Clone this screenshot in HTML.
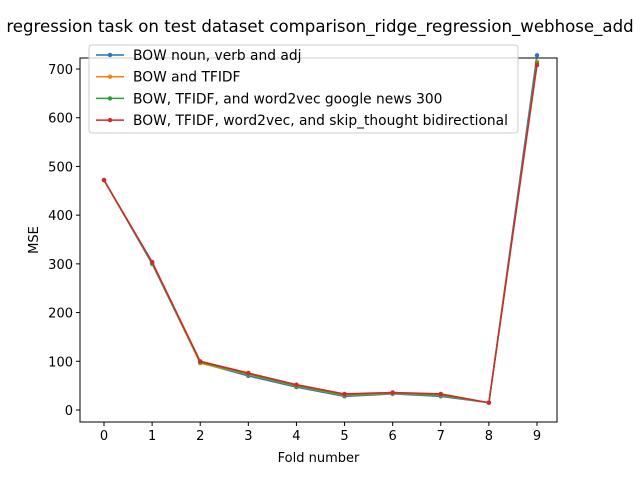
<!DOCTYPE html>
<html><head><meta charset="utf-8"><style>
body{margin:0;background:#fff;}
svg{font-family:"DejaVu Sans","Liberation Sans",sans-serif;}
</style></head><body>
<svg id="chart" width="640" height="480" xmlns="http://www.w3.org/2000/svg">
<rect width="640" height="480" fill="#fff"/>
<text x="320" y="32" font-size="16.6" text-anchor="middle">regression task on test dataset comparison_ridge_regression_webhose_add</text>
<g id="plot"></g>
</svg>
<script>
const folds=[0,1,2,3,4,5,6,7,8,9];
const seriesNames=["BOW noun, verb and adj","BOW and TFIDF","BOW, TFIDF, and word2vec google news 300","BOW, TFIDF, word2vec, and skip_thought bidirectional"];
const blueVals=[472,300,97,70,47,28,33,28,15,728];
const orangeVals=[472,302,96,73,49,30,34,30,15,715];
const greenVals=[472,302,98,74,50,31,35,31,15,712];
const redVals=[472,304,100,76,52,33,36,33,15,708];
const yTicks=[0,100,200,300,400,500,600,700];
const colors=["#1f77b4","#ff7f0e","#2ca02c","#d62728"];
const NS="http://www.w3.org/2000/svg";
const L=80,R=557,T=58,B=422;
const xs=v=>104+v*(537-104)/9;
const ys=v=>410-v*(410-69)/700;
const g=document.getElementById('plot');
function el(t,a,p){const e=document.createElementNS(NS,t);for(const k in a)e.setAttribute(k,a[k]);(p||g).appendChild(e);return e;}
const frame=el('rect',{x:L,y:T,width:R-L,height:B-T,fill:'none',stroke:'#000','stroke-width':1});


folds.forEach(f=>{
  const tk=el('line',{x1:xs(f),x2:xs(f),y1:B,y2:B+4,stroke:'#000'});
  
  
  const t=el('text',{x:xs(f),y:B+18,'font-size':13,'text-anchor':'middle'});t.textContent=f;
  
  
});
yTicks.forEach(v=>{
  const tk=el('line',{x1:L-4,x2:L,y1:ys(v),y2:ys(v),stroke:'#000'});
  
  
  const t=el('text',{x:L-7,y:ys(v)+5,'font-size':13,'text-anchor':'end'});t.textContent=v;
  
  
});
const xl=el('text',{x:(L+R)/2,y:462,'font-size':13,'text-anchor':'middle'});xl.textContent='Fold number';


const yl=el('text',{x:0,y:0,'font-size':13,'text-anchor':'middle',transform:`translate(38,${(T+B)/2}) rotate(-90)`});yl.textContent='MSE';


[blueVals,orangeVals,greenVals,redVals].forEach((vals,i)=>{
  const pts=folds.map((f,j)=>xs(f)+','+ys(vals[j])).join(' ');
  const pl=el('polyline',{points:pts,fill:'none',stroke:colors[i],'stroke-width':1.5});
  
  
  folds.forEach((f,j)=>{
    const c=el('circle',{cx:xs(f),cy:ys(vals[j]),r:2.2,fill:colors[i]});
    
    
  });
});
const lg=el('g',{});


el('rect',{x:89,y:45,width:429,height:88,rx:3,fill:'#fff','fill-opacity':0.8,stroke:'#ccc'},lg);
seriesNames.forEach((n,i)=>{
  const y=55+i*21.7;
  const ln=el('line',{x1:96,x2:124,y1:y,y2:y,stroke:colors[i],'stroke-width':1.5},lg);
  
  
  el('circle',{cx:110,cy:y,r:2.2,fill:colors[i]},lg);
  const t=el('text',{x:133,y:y+5,'font-size':13.8},lg);t.textContent=n;
  
  
});
</script>
</body></html>
